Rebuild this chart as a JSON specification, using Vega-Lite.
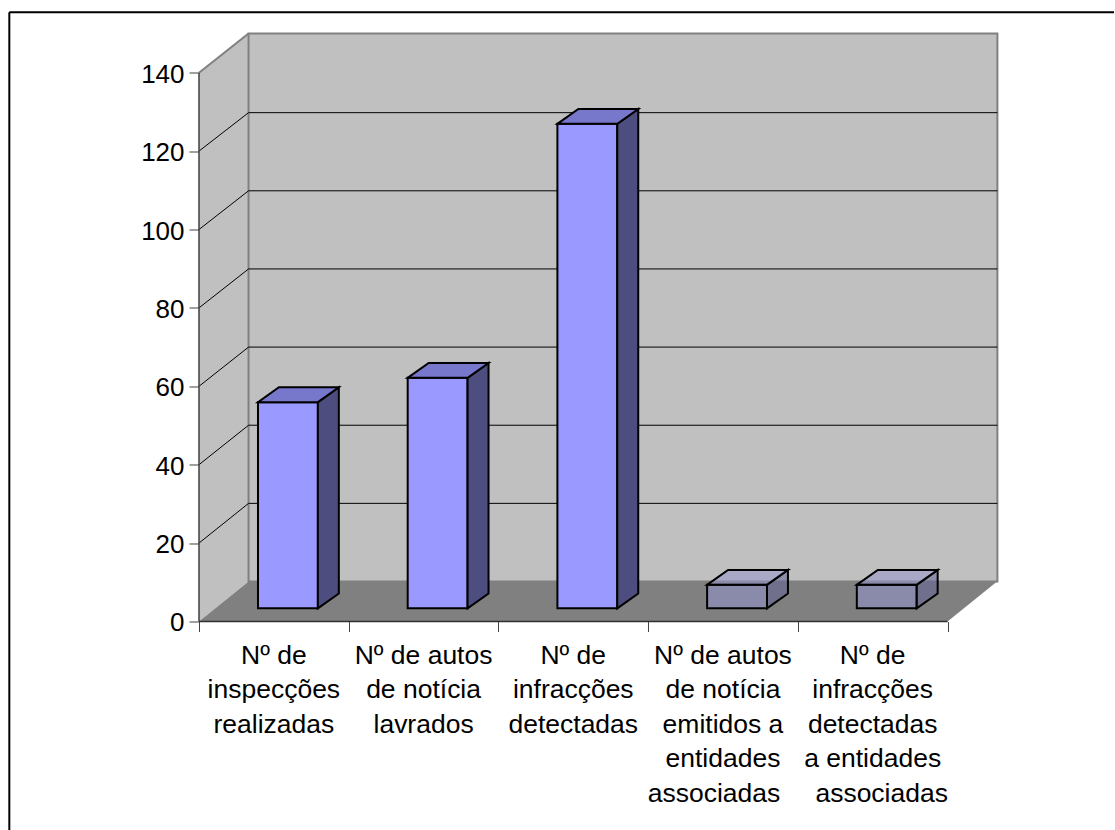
{
"$schema":"https://vega.github.io/schema/vega-lite/v6.json",
"width":798.4,"height":588,
"autosize":"none",
"padding":{"left":199,"top":33.5,"right":117,"bottom":208},
"background":"white",
"config":{"view":{"stroke":null},"font":"Liberation Sans"},
"datasets":{
"barras":[
{"categoria":"Nº de\ninspecções\nrealizadas","i":0,"valor":52.6,"grupo":"a"},
{"categoria":"Nº de autos\nde notícia\nlavrados","i":1,"valor":58.8,"grupo":"a"},
{"categoria":"Nº de\ninfracções\ndetectadas","i":2,"valor":123.6,"grupo":"a"},
{"categoria":"Nº de autos\nde notícia\nemitidos a\nentidades","ultima":"associadas","i":3,"valor":6,"grupo":"b"},
{"categoria":"Nº de\ninfracções\ndetectadas\na entidades","ultima":"associadas","i":4,"valor":6,"grupo":"b"}
],
"niveis":[{"v":20},{"v":40},{"v":60},{"v":80},{"v":100},{"v":120}],
"um":[{"k":1}]
},
"data":{"name":"um"},
"transform":[{"calculate":"-1.267","as":"fx0"},{"calculate":"6.2","as":"fx1"},{"calculate":"155.4","as":"fy"},{"calculate":"-60","as":"fyb"},{"calculate":"0.331","as":"wx"},{"calculate":"5.333","as":"wxr"},{"calculate":"10.2","as":"wy"},{"calculate":"150","as":"wyt"},{"calculate":"140","as":"m"},{"calculate":"0","as":"z"},{"calculate":"5","as":"cinco"}],
"layer":[
{"mark":{"type":"rule","color":"black","strokeWidth":2,"clip":false},
 "encoding":{"x":{"field":"fx0","type":"quantitative","scale":{"domain":[0,5.333],"nice":false,"zero":false},"axis":{"title":null,"values":[0,1,2,3,4,5],"labels":false,"domain":false,"grid":false,"tickColor":"#404040","tickSize":10,"tickWidth":1,"orient":"bottom"}},
  "x2":{"field":"fx1"},
  "y":{"field":"fy","type":"quantitative","scale":{"domain":[0,150],"nice":false,"zero":false},"axis":{"title":null,"values":[0,20,40,60,80,100,120,140],"domain":false,"grid":false,"tickColor":"#404040","tickSize":10,"tickWidth":1,"labelFontSize":26,"labelColor":"black","labelPadding":5,"labelOffset":1.5,"labelFont":"Liberation Sans"}}}},
{"mark":{"type":"rule","color":"black","strokeWidth":2,"clip":false},
 "encoding":{"x":{"field":"fx0","type":"quantitative"},"y":{"field":"fy","type":"quantitative"},"y2":{"field":"fyb"}}},
{"data":{"values":[{"d":0},{"d":1}]},
 "transform":[{"calculate":"datum.d*0.331","as":"px"},{"calculate":"datum.d*10.2","as":"lo"},{"calculate":"datum.lo+140","as":"hi"}],
 "mark":{"type":"area","color":"#c0c0c0"},
 "encoding":{"x":{"field":"px","type":"quantitative"},"y":{"field":"lo","type":"quantitative"},"y2":{"field":"hi"}}},
{"mark":{"type":"rect","color":"#c0c0c0","stroke":"#808080","strokeWidth":2},
 "encoding":{"x":{"field":"wx","type":"quantitative"},"x2":{"field":"wxr"},"y":{"field":"wy","type":"quantitative"},"y2":{"field":"wyt"}}},
{"data":{"name":"niveis"},"transform":[{"calculate":"datum.v*0.9967+10.2","as":"vb"},{"calculate":"0.331","as":"a"},{"calculate":"5.333","as":"b"}],
 "mark":{"type":"rule","color":"black","strokeWidth":1},
 "encoding":{"x":{"field":"a","type":"quantitative"},"x2":{"field":"b"},"y":{"field":"vb","type":"quantitative"}}},
{"data":{"name":"niveis"},"transform":[{"calculate":"datum.v*0.9967+10.2","as":"vb"},{"calculate":"0","as":"a"},{"calculate":"0.331","as":"b"}],
 "mark":{"type":"rule","color":"black","strokeWidth":1},
 "encoding":{"x":{"field":"a","type":"quantitative"},"x2":{"field":"b"},"y":{"field":"v","type":"quantitative"},"y2":{"field":"vb"}}},
{"mark":{"type":"rule","color":"#808080","strokeWidth":2},
 "encoding":{"x":{"field":"z","type":"quantitative"},"x2":{"field":"wx"},"y":{"field":"m","type":"quantitative"},"y2":{"field":"wyt"}}},
{"data":{"values":[{"d":0},{"d":0.331},{"d":5},{"d":5.331}]},
 "transform":[{"calculate":"datum.d<=0.331?datum.d/0.331*10.2:10.2","as":"t"},{"calculate":"datum.d>=5?(datum.d-5)/0.331*10.2:0","as":"b"}],
 "mark":{"type":"area","color":"#808080"},
 "encoding":{"x":{"field":"d","type":"quantitative"},"y":{"field":"b","type":"quantitative"},"y2":{"field":"t"}}},
{"mark":{"type":"rule","color":"#404040","strokeWidth":1.5},
 "encoding":{"x":{"field":"z","type":"quantitative"},"y":{"field":"z","type":"quantitative"},"y2":{"field":"m"}}},
{"mark":{"type":"rule","color":"#303030","strokeWidth":1.5},
 "encoding":{"x":{"field":"z","type":"quantitative"},"x2":{"field":"cinco"},"y":{"field":"z","type":"quantitative"}}},
{"data":{"name":"barras"},
 "transform":[{"calculate":"datum.i+0.394","as":"x0"},{"calculate":"datum.x0+0.4","as":"x1"},{"calculate":"3.35","as":"base"},{"calculate":"datum.valor+3.35","as":"topo"},{"calculate":"datum.grupo+'-frente'","as":"face"}],
 "mark":{"type":"rect","stroke":"black","strokeWidth":2},
 "encoding":{"x":{"field":"x0","type":"quantitative"},"x2":{"field":"x1"},"y":{"field":"base","type":"quantitative"},"y2":{"field":"topo"},
  "fill":{"field":"face","type":"nominal","legend":null,"scale":{"domain":["a-frente","b-frente","a-lado","b-lado","a-topo","b-topo"],"range":["#9999ff","#9292cc","#4d4d80","#636396","#7777cc","#9696cc"]}},
  "fillOpacity":{"field":"grupo","type":"nominal","legend":null,"scale":{"domain":["a","b"],"range":[1,0.55]}}}},
{"data":{"name":"barras"},
 "transform":[{"calculate":"[0,1]","as":"d"},{"flatten":["d"]},{"calculate":"datum.i+0.794+datum.d*0.14","as":"px"},{"calculate":"3.35+datum.d*3.8","as":"lo"},{"calculate":"datum.lo+datum.valor","as":"hi"},{"calculate":"datum.grupo+'-lado'","as":"face"}],
 "mark":{"type":"area","stroke":"black","strokeWidth":2},
 "encoding":{"x":{"field":"px","type":"quantitative"},"y":{"field":"lo","type":"quantitative"},"y2":{"field":"hi"},"detail":{"field":"i"},
  "fill":{"field":"face","type":"nominal","legend":null},
  "fillOpacity":{"field":"grupo","type":"nominal","legend":null}}},
{"data":{"name":"barras"},
 "transform":[{"calculate":"[0,1,2,3]","as":"d"},{"flatten":["d"]},
  {"calculate":"datum.i+0.394+[0,0.14,0.4,0.54][datum.d]","as":"px"},
  {"calculate":"datum.valor+3.35+[0,0,0,3.8][datum.d]","as":"lo"},
  {"calculate":"datum.valor+3.35+[0,3.8,3.8,3.8][datum.d]","as":"hi"},{"calculate":"datum.grupo+'-topo'","as":"face"}],
 "mark":{"type":"area","stroke":"black","strokeWidth":2},
 "encoding":{"x":{"field":"px","type":"quantitative"},"y":{"field":"lo","type":"quantitative"},"y2":{"field":"hi"},"detail":{"field":"i"},
  "fill":{"field":"face","type":"nominal","legend":null},
  "fillOpacity":{"field":"grupo","type":"nominal","legend":null}}},
{"data":{"name":"barras"},
 "transform":[{"calculate":"datum.i+0.5","as":"c"},{"calculate":"0","as":"z"}],
 "mark":{"type":"text","baseline":"alphabetic","align":"center","dy":42.5,"fontSize":26.5,"lineHeight":34.4,"lineBreak":"\n","color":"black","clip":false},
 "encoding":{"x":{"field":"c","type":"quantitative"},"y":{"field":"z","type":"quantitative"},"text":{"field":"categoria"}}},
{"data":{"name":"barras"},
 "transform":[{"filter":"datum.ultima"},{"calculate":"datum.i+0.5+(datum.i==3?-0.06:0.06)","as":"c"},{"calculate":"0","as":"z"}],
 "mark":{"type":"text","baseline":"alphabetic","align":"center","dy":180.1,"fontSize":26.5,"color":"black","clip":false},
 "encoding":{"x":{"field":"c","type":"quantitative"},"y":{"field":"z","type":"quantitative"},"text":{"field":"ultima"}}}
]
}
